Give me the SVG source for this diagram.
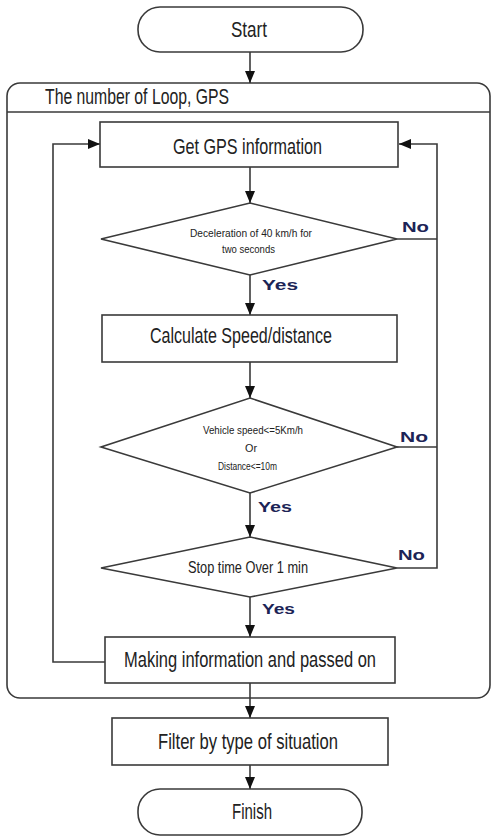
<svg xmlns="http://www.w3.org/2000/svg" width="491" height="837" viewBox="0 0 491 837">
  <style>
    .shape { fill: #ffffff; stroke: #3a3a3a; stroke-width: 1.6; }
    .line { fill: none; stroke: #3a3a3a; stroke-width: 1.6; }
    .label { font-family: "Liberation Sans", Arial, sans-serif; fill: #222222; }
    .big { font-size: 22px; }
    .small { font-size: 10px; }
    .mid { font-size: 16px; }
    .yn { font-family: "Liberation Sans", Arial, sans-serif; font-weight: bold; font-size: 15px; fill: #1c2456; }
  </style>
  <defs>
    <marker id="arrow" viewBox="0 0 12 10" refX="12" refY="5" markerWidth="12" markerHeight="10" markerUnits="userSpaceOnUse" orient="auto">
      <path d="M0,0 L12,5 L0,10 Z" fill="#111111"/>
    </marker>
  </defs>

  <rect width="491" height="837" fill="#ffffff"/>

  <!-- loop container -->
  <g id="loop">
    <rect class="shape" x="7" y="83" width="483" height="615" rx="13" ry="13"/>
    <line class="line" x1="7" y1="112" x2="490" y2="112"/>
    <text class="label big" x="45" y="104" textLength="184" lengthAdjust="spacingAndGlyphs">The number of Loop, GPS</text>
  </g>

  <!-- connectors -->
  <g id="connectors">
    <line class="line" x1="250" y1="52" x2="250" y2="83" marker-end="url(#arrow)"/>
    <line class="line" x1="250" y1="167" x2="250" y2="203" marker-end="url(#arrow)"/>
    <line class="line" x1="250" y1="275" x2="250" y2="315" marker-end="url(#arrow)"/>
    <line class="line" x1="250" y1="362" x2="250" y2="398" marker-end="url(#arrow)"/>
    <line class="line" x1="250" y1="493" x2="250" y2="537" marker-end="url(#arrow)"/>
    <line class="line" x1="250" y1="597" x2="250" y2="637" marker-end="url(#arrow)"/>
    <line class="line" x1="250" y1="683" x2="250" y2="718" marker-end="url(#arrow)"/>
    <line class="line" x1="250" y1="765" x2="250" y2="789" marker-end="url(#arrow)"/>
    <!-- "No" branches back to GPS step -->
    <polyline class="line" points="397,239 437,239"/>
    <polyline class="line" points="397,447 437,447"/>
    <polyline class="line" points="397,568 437,568 437,144 399,144" marker-end="url(#arrow)"/>
    <!-- loop return -->
    <polyline class="line" points="105,662 53,662 53,144 100,144" marker-end="url(#arrow)"/>
    <text class="yn" x="402" y="232" textLength="27" lengthAdjust="spacingAndGlyphs">No</text>
    <text class="yn" x="400" y="442" textLength="28" lengthAdjust="spacingAndGlyphs">No</text>
    <text class="yn" x="398" y="560" textLength="27" lengthAdjust="spacingAndGlyphs">No</text>
    <text class="yn" x="262" y="290" textLength="36" lengthAdjust="spacingAndGlyphs">Yes</text>
    <text class="yn" x="258" y="512" textLength="34" lengthAdjust="spacingAndGlyphs">Yes</text>
    <text class="yn" x="262" y="614" textLength="33" lengthAdjust="spacingAndGlyphs">Yes</text>
  </g>

  <g id="start">
    <rect class="shape" x="138" y="7" width="225" height="45" rx="22" ry="22"/>
    <text class="label big" x="231" y="37" textLength="36" lengthAdjust="spacingAndGlyphs">Start</text>
  </g>

  <g id="get-gps">
    <rect class="shape" x="100" y="122" width="298" height="45"/>
    <text class="label big" x="173" y="154" textLength="149" lengthAdjust="spacingAndGlyphs">Get GPS information</text>
  </g>

  <g id="decel-check">
    <polygon class="shape" points="250,203 397,239 250,275 101,239"/>
    <text class="label small" x="190" y="237" textLength="122" lengthAdjust="spacingAndGlyphs">Deceleration of 40 km/h for</text>
    <text class="label small" x="222" y="253" textLength="53" lengthAdjust="spacingAndGlyphs">two seconds</text>
  </g>

  <g id="calc-speed">
    <rect class="shape" x="102" y="315" width="295" height="47"/>
    <text class="label big" x="150" y="343" textLength="182" lengthAdjust="spacingAndGlyphs">Calculate Speed/distance</text>
  </g>

  <g id="speed-check">
    <polygon class="shape" points="250,398 397,447 250,493 101,447"/>
    <text class="label small" x="203" y="434" textLength="100" lengthAdjust="spacingAndGlyphs">Vehicle speed&lt;=5Km/h</text>
    <text class="label small" x="245" y="452" textLength="12" lengthAdjust="spacingAndGlyphs">Or</text>
    <text class="label small" x="218" y="470" textLength="59" lengthAdjust="spacingAndGlyphs">Distance&lt;=10m</text>
  </g>

  <g id="stop-check">
    <polygon class="shape" points="250,537 397,568 250,597 101,568"/>
    <text class="label mid" x="188" y="573" textLength="120" lengthAdjust="spacingAndGlyphs">Stop time Over 1 min</text>
  </g>

  <g id="make-info">
    <rect class="shape" x="105" y="637" width="290" height="46"/>
    <text class="label big" x="124" y="667" textLength="252" lengthAdjust="spacingAndGlyphs">Making information and passed on</text>
  </g>

  <g id="filter">
    <rect class="shape" x="112" y="718" width="276" height="47"/>
    <text class="label big" x="158" y="749" textLength="180" lengthAdjust="spacingAndGlyphs">Filter by type of situation</text>
  </g>

  <g id="finish">
    <rect class="shape" x="138" y="789" width="224" height="46" rx="22" ry="22"/>
    <text class="label big" x="232" y="819" textLength="40" lengthAdjust="spacingAndGlyphs">Finish</text>
  </g>
</svg>
